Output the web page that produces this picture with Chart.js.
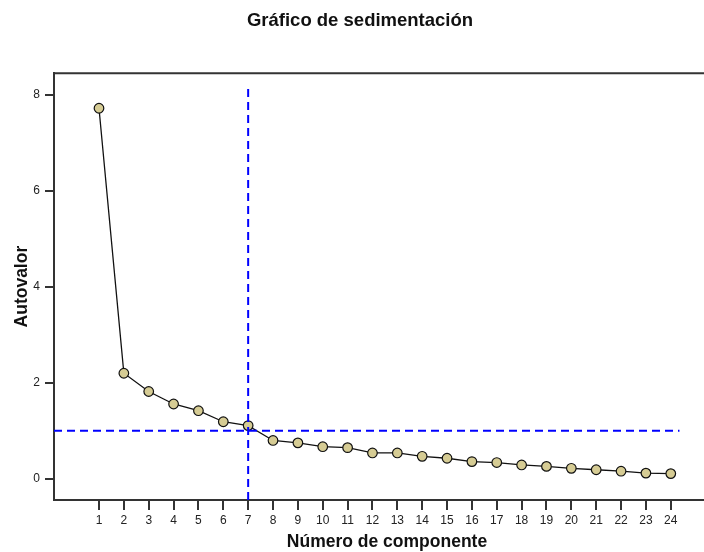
<!DOCTYPE html>
<html>
<head>
<meta charset="utf-8">
<script src="https://cdn.jsdelivr.net/npm/chart.js@4"></script>
<style>
  html, body { margin: 0; padding: 0; background: #fff; overflow: hidden; }
  #wrap { width: 726px; height: 552px; }
</style>
</head>
<body>
<div id="wrap"><canvas id="screeChart" width="726" height="552"></canvas></div>
<script>
const componentes = [1, 2, 3, 4, 5, 6, 7, 8, 9, 10, 11, 12, 13, 14, 15, 16, 17, 18, 19, 20, 21, 22, 23, 24];
const autovalores = [7.72, 2.2, 1.82, 1.56, 1.42, 1.19, 1.11, 0.8, 0.75, 0.67, 0.65, 0.54,
  0.54, 0.47, 0.43, 0.36, 0.34, 0.29, 0.26, 0.22, 0.19, 0.16, 0.12, 0.11];
const yTicks = [0, 2, 4, 6, 8];

// lineas de corte
const corteComponente = 7;
const corteAutovalor = 1;
const corteVertical = [-0.44, 8.2];
const corteHorizontal = [-0.81, 24.35];

const xMin = -0.81, xMax = 25.98;
const yMin = -0.44, yMax = 8.45;

const puntos = componentes.map((c, i) => ({ x: c, y: autovalores[i] }));

const marco = {
  id: 'marco',
  afterDraw(chart) {
    const { ctx, chartArea } = chart;
    ctx.save();
    ctx.strokeStyle = '#333';
    ctx.lineWidth = 2;
    ctx.beginPath();
    ctx.moveTo(chartArea.left, chartArea.top);
    ctx.lineTo(chartArea.right, chartArea.top);
    ctx.lineTo(chartArea.right, chartArea.bottom);
    ctx.stroke();
    ctx.restore();
  }
};

const fuente = 'Liberation Sans, Arial, sans-serif';

new Chart(document.getElementById('screeChart'), {
  type: 'line',
  data: {
    datasets: [
      {
        data: corteVertical.map(v => ({ x: corteComponente, y: v })),
        borderColor: '#0000ff',
        borderWidth: 2,
        borderDash: [8, 5],
        pointRadius: 0,
        order: 0
      },
      {
        data: corteHorizontal.map(v => ({ x: v, y: corteAutovalor })),
        borderColor: '#0000ff',
        borderWidth: 2,
        borderDash: [8, 5],
        pointRadius: 0,
        order: 1
      },
      {
        data: puntos,
        borderColor: '#111',
        borderWidth: 1.3,
        pointRadius: 4.8,
        pointBackgroundColor: 'rgb(214, 204, 148)',
        pointBorderColor: '#111',
        pointBorderWidth: 1.2,
        tension: 0,
        order: 2
      }
    ]
  },
  options: {
    responsive: false,
    animation: false,
    layout: { padding: { left: 0, right: 6, top: 0, bottom: 0 } },
    plugins: {
      legend: { display: false },
      tooltip: { enabled: false },
      title: {
        display: true,
        text: 'Gráfico de sedimentación',
        color: '#111',
        font: { family: fuente, size: 18.5, weight: 'bold' },
        padding: { top: 10, bottom: 41 }
      }
    },
    scales: {
      x: {
        type: 'linear',
        min: xMin,
        max: xMax,
        afterBuildTicks(axis) { axis.ticks = componentes.map(v => ({ value: v })); },
        afterFit(axis) { axis.height = 52; },
        ticks: {
          color: '#222',
          font: { family: fuente, size: 12 },
          padding: 3,
          maxRotation: 0,
          autoSkip: false
        },
        grid: { drawOnChartArea: false, drawTicks: true, tickLength: 10, color: '#333', lineWidth: 2 },
        border: { display: true, color: '#333', width: 2 },
        title: {
          display: true,
          text: 'Número de componente',
          color: '#111',
          font: { family: fuente, size: 17.5, weight: 'bold' },
          padding: { top: 0, bottom: -1 }
        }
      },
      y: {
        type: 'linear',
        min: yMin,
        max: yMax,
        afterBuildTicks(axis) { axis.ticks = yTicks.map(v => ({ value: v })); },
        afterFit(axis) { axis.width = 54; },
        ticks: {
          color: '#222',
          font: { family: fuente, size: 12 },
          padding: 5
        },
        grid: { drawOnChartArea: false, drawTicks: true, tickLength: 9, color: '#333', lineWidth: 2 },
        border: { display: true, color: '#333', width: 2 },
        title: {
          display: true,
          text: 'Autovalor',
          color: '#111',
          font: { family: fuente, size: 17.5, weight: 'bold' },
          padding: { top: 12, bottom: 0 }
        }
      }
    }
  },
  plugins: [marco]
});
</script>
</body>
</html>
